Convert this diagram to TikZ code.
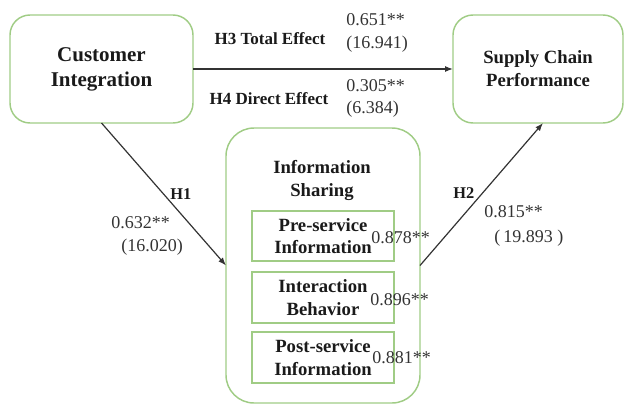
\documentclass[tikz,border=0pt]{standalone}
\usepackage{fontspec}
\setmainfont{Liberation Serif}
\usetikzlibrary{arrows.meta,calc}
\definecolor{boxgreen}{HTML}{A0CC85}
\definecolor{linegray}{HTML}{333333}
\definecolor{txt}{HTML}{1A1A1A}
\begin{document}
\begin{tikzpicture}[x=0.75pt,y=-0.75pt,
 bigbox/.style={draw=boxgreen,line width=1.1pt,rounded corners=15pt,inner sep=0pt,outer sep=0pt,align=center,text=txt},
 smallbox/.style={draw=boxgreen,line width=1.1pt,inner sep=0pt,outer sep=0pt,minimum width=106.5pt,minimum height=38pt,align=center,text=txt,font=\fontsize{14}{16.9}\selectfont\bfseries},
 lab/.style={font=\fontsize{12.75}{15}\selectfont\bfseries,text=txt,inner sep=0pt,anchor=base},
 hlab/.style={font=\fontsize{12.3}{15}\selectfont\bfseries,text=txt,inner sep=0pt,anchor=base west},
 num/.style={font=\fontsize{13.5}{16}\selectfont,text=linegray,inner sep=0pt,anchor=base west},
 conn/.style={draw=linegray,line width=0.9pt,-{Latex[length=6pt,width=4.5pt]}}
]
\useasboundingbox (0,0) rectangle (625,404);

\node[bigbox,minimum width=137.25pt,minimum height=81pt,font=\fontsize{15.75}{18.75}\selectfont\bfseries] (ci) at (101.5,69) {Customer\\Integration};
\node[bigbox,minimum width=127.5pt,minimum height=81pt,font=\fontsize{14}{17.25}\selectfont\bfseries] (scp) at (538,69) {Supply Chain\\Performance};
\node[bigbox,rounded corners=21pt,minimum width=145.5pt,minimum height=206.25pt] (is) at (323,265.5) {};
\node[font=\fontsize{14}{17.25}\selectfont\bfseries,text=txt,align=center,inner sep=0pt] (ist) at (322,180) {Information\\Sharing};

\node[smallbox,minimum height=37.5pt] (pre) at (323,236) {Pre-service\\Information};
\node[smallbox,minimum height=38.25pt] (ib) at (323,297.5) {Interaction\\Behavior};
\node[smallbox,minimum height=38.25pt] (post) at (323,357.5) {Post-service\\Information};

\node[num] (l1) at (371,243) {0.878**};
\node[num] (l2) at (370,305) {0.896**};
\node[num] (l3) at (372,363) {0.881**};

\draw[conn] (ci.east) -- (scp.west);
\draw[conn] (ci.south) -- (is.west);
\draw[conn] (is.east) -- ([xshift=3.75pt]scp.south);

\node[lab] (h3) at (270,44) {H3 Total Effect};
\node[lab] (h4) at (269,104) {H4 Direct Effect};
\node[num] (n1) at (346,25) {0.651**};
\node[num] (n2) at (346,48) {(16.941)};
\node[num] (n3) at (346,91) {0.305**};
\node[num] (n4) at (346,113) {(6.384)};

\node[hlab] (h1) at (170,199) {H1};
\node[num] (n5) at (111,228) {0.632**};
\node[num] (n6) at (121,251) {(16.020)};

\node[hlab] (h2) at (453,198) {H2};
\node[num] (n7) at (484,217) {0.815**};
\node[num] (n8) at (494,242) {(\,19.893 )};
\end{tikzpicture}
\end{document}
